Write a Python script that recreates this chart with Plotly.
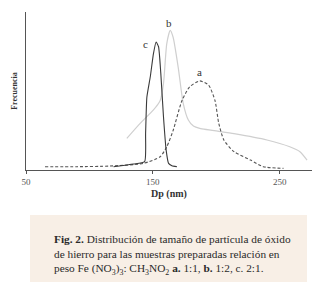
import plotly.graph_objects as go

# Curve a (1:1) dashed
a_x = [65, 90, 116, 142.6, 155.8, 161, 166, 173, 179, 187, 194, 199, 202, 206, 214, 227, 237, 253]
a_y = [2.1, 2.1, 2.5, 4.2, 8.4, 14.7, 25, 44, 52.6, 56.4, 53.7, 44, 29.5, 19, 11.6, 6.3, 2.1, 1.0]
# Curve b (1:2) light gray
b_x = [129.5, 140, 150.5, 155.8, 158.4, 161, 163.7, 166, 170, 174, 178, 182, 187, 214, 240, 258, 266, 271.6]
b_y = [20, 29.5, 38, 44, 54.7, 80, 88.4, 84, 65, 42, 31.6, 27.8, 26.3, 23, 19, 14.7, 11.6, 6.3]
# Curve c (2:1) dark
c_x = [119, 134.7, 143.5, 144.3, 145.3, 148, 150.5, 152.6, 154.5, 156.3, 158.4, 160.5, 162.4, 165, 169]
c_y = [2.1, 3.8, 5.3, 23, 46, 59, 73.7, 81, 78, 61, 33.7, 12.6, 4.2, 2.7, 2.1]

x_ticks = [50, 150, 250]
labels = [("a", 187, 62), ("b", 163, 93), ("c", 144.5, 80)]

fig = go.Figure()
fig.add_trace(go.Scatter(x=b_x, y=b_y, mode="lines", line=dict(color="#cfcfcf", width=1.2, shape="spline", smoothing=0.6), showlegend=False, hoverinfo="skip"))
fig.add_trace(go.Scatter(x=a_x, y=a_y, mode="lines", line=dict(color="#555555", width=1.1, dash="3px,2px", shape="spline", smoothing=0.6), showlegend=False, hoverinfo="skip"))
fig.add_trace(go.Scatter(x=c_x, y=c_y, mode="lines", line=dict(color="#3a3a3a", width=1.1, shape="spline", smoothing=0.5), showlegend=False, hoverinfo="skip"))

for t, x, y in labels:
    fig.add_annotation(x=x, y=y, text=t, showarrow=False, font=dict(family="Liberation Serif", size=11, color="#333333"))

serif = "Liberation Serif"
fig.update_layout(
    width=320, height=282,
    margin=dict(l=26, r=8, t=12, b=112),
    paper_bgcolor="white", plot_bgcolor="white", hovermode=False,
    xaxis=dict(range=[50, 275.5], tickvals=x_ticks, ticks="outside", ticklen=3, tickcolor="#555",
               showline=True, linecolor="#555", linewidth=1, showgrid=False, zeroline=False, automargin=False,
               tickfont=dict(family=serif, size=9, color="#555"),
               title=dict(text="<b>Dp (nm)</b>", font=dict(family=serif, size=10, color="#333"), standoff=4)),
    yaxis=dict(range=[0, 100], showticklabels=False, ticks="", showline=True, linecolor="#555", linewidth=1,
               showgrid=False, zeroline=False, automargin=False,
               title=dict(text="<b>Frecuencia</b>", font=dict(family=serif, size=8, color="#333"), standoff=6)),
)

def px2paper_x(px):
    return (px - 26) / 286.0

def px2paper_y(py):
    return (170 - py) / 158.0

fig.add_shape(type="rect", xref="paper", yref="paper",
              x0=px2paper_x(30), x1=px2paper_x(307), y0=px2paper_y(282), y1=px2paper_y(215),
              fillcolor="#f8efe6", line=dict(width=0), layer="below")

caption = ("<b>Fig. 2.</b> Distribución de tamaño de partícula de óxido<br>"
           "de hierro para las muestras preparadas relación en<br>"
           "peso Fe (NO<sub>3</sub>)<sub>3</sub>: CH<sub>3</sub>NO<sub>2</sub> <b>a.</b> 1:1, <b>b.</b> 1:2, c. 2:1.")
fig.add_annotation(xref="paper", yref="paper", x=px2paper_x(52), y=px2paper_y(231),
                   xanchor="left", yanchor="top", align="left", showarrow=False,
                   text=caption, font=dict(family=serif, size=11.3, color="#2a2a2a"))

fig.write_html("out.html", config={"displayModeBar": False, "staticPlot": True},
               post_script="document.body.style.margin='0';document.body.style.overflow='hidden';")
